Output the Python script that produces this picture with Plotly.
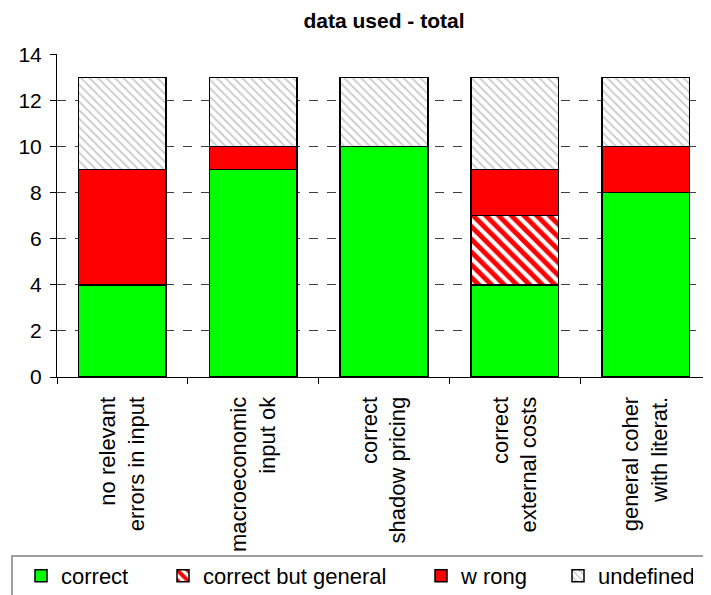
import plotly.graph_objects as go

categories = ["no relevant<br>errors in input", "macroeconomic<br>input ok", "correct<br>shadow pricing",
              "correct<br>external costs", "general coher<br>with literat."]
correct = [4, 9, 10, 4, 8]
correct_general = [0, 0, 0, 3, 0]
wrong = [5, 1, 0, 2, 2]
undefined = [4, 3, 3, 4, 3]
y_ticks = [0, 2, 4, 6, 8, 10, 12, 14]

FONT = "Liberation Sans"
line = dict(color="black", width=1.5)

W, H = 703, 587
fig = go.Figure()
fig.add_trace(go.Bar(x=categories, y=correct, name="correct",
                     marker=dict(color="#00ff00", line=line), legendwidth=97))
fig.add_trace(go.Bar(x=categories, y=correct_general, name="correct but general",
                     marker=dict(color="white", line=line,
                                 pattern=dict(shape="\\", fgcolor="red", bgcolor="white",
                                              size=9, solidity=0.55, fillmode="replace")),
                     legendwidth=213))
fig.add_trace(go.Bar(x=categories, y=wrong, name="w rong",
                     marker=dict(color="red", line=line), legendwidth=92))
fig.add_trace(go.Bar(x=categories, y=undefined, name="undefined",
                     marker=dict(color="white", line=line,
                                 pattern=dict(shape="\\", fgcolor="#c8c8c8", bgcolor="white",
                                              size=6, solidity=0.3, fillmode="replace")),
                     legendwidth=90))

# legend frame (from x=4px to past the right edge, from y=548px down)
fig.add_shape(type="rect", xref="paper", yref="paper",
              x0=(4 - 49) / 654, x1=1.02, y0=-0.75, y1=(369 - 548) / 323,
              line=dict(color="#808080", width=1.5), fillcolor="rgba(0,0,0,0)", layer="above")

fig.update_layout(
    width=W, height=H,
    barmode="stack", bargap=0.33,
    plot_bgcolor="white", paper_bgcolor="white",
    margin=dict(l=49, r=0, t=46, b=218, autoexpand=False),
    font=dict(family=FONT, size=22, color="black"),
    title=dict(text="<b>data used - total</b>", xref="paper", x=0.5, xanchor="center",
               yref="container", y=1 - 13 / H, yanchor="middle", pad=dict(t=0, b=0),
               font=dict(family=FONT, size=21, color="black")),
    showlegend=True,
    legend=dict(orientation="h", x=(13 - 49) / 654, xanchor="left", y=(369 - 547) / 323,
                yanchor="top", borderwidth=0, bgcolor="rgba(0,0,0,0)", font=dict(size=22),
                traceorder="normal", itemwidth=30),
    yaxis=dict(range=[0, 14.02], tickvals=y_ticks, showgrid=True, gridcolor="#404040",
               griddash="dash", gridwidth=1, showline=True, linecolor="black",
               linewidth=1, ticks="outside", ticklen=6, tickcolor="black",
               zeroline=False, ticklabelstandoff=4, tickfont=dict(size=21)),
    yaxis2=dict(overlaying="y", side="left", range=[0, 14.02], tickvals=y_ticks,
                ticks="inside", ticklen=6, tickcolor="black", showticklabels=False,
                showgrid=False, showline=False, zeroline=False),
)
fig.update_xaxes(showline=True, linecolor="black", linewidth=1, ticks="outside",
                 tickson="boundaries", ticklen=6, tickcolor="black", tickangle=-90,
                 ticklabelstandoff=10, tickfont=dict(size=22))
fig.write_html("out.html")
